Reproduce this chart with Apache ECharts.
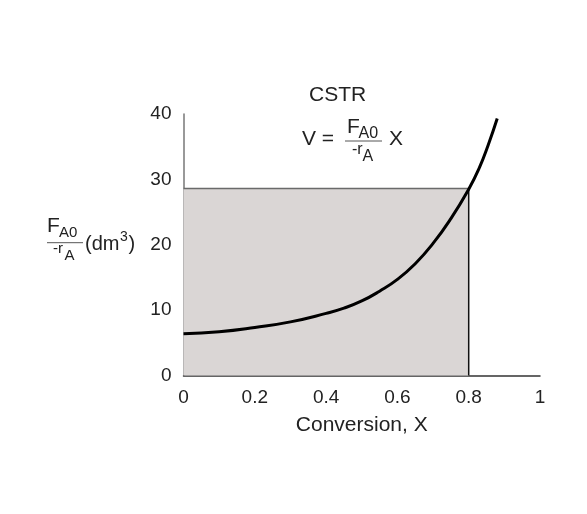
<!DOCTYPE html>
<html>
<head>
<meta charset="utf-8">
<script src="https://cdn.jsdelivr.net/npm/echarts@6/dist/echarts.min.js"></script>
<style>html,body{margin:0;padding:0;background:#fff}#c{width:587px;height:514px}</style>
</head>
<body>
<div id="c"></div>
<script>
const conversion = [0, 0.1, 0.2, 0.3, 0.4, 0.45, 0.5, 0.55, 0.6, 0.65, 0.7, 0.75, 0.8, 0.83, 0.855, 0.88];
const fa0OverRa = [6.4, 6.7, 7.35, 8.2, 9.5, 10.3, 11.4, 12.9, 14.7, 17.1, 20.2, 24.0, 28.5, 31.8, 35.3, 39.3];
const xOperating = 0.8;
const rectHeight = 28.6;
const xTicks = [0, 0.2, 0.4, 0.6, 0.8, 1];
const yTicks = [0, 10, 20, 30, 40];

const FONT = '"Liberation Sans", Arial, sans-serif';
const C = '#222';
function t(x, y, text, size) {
  return { type: 'text', style: { x: x, y: y, text: text, font: size + 'px ' + FONT, fill: C, textAlign: 'left', textVerticalAlign: 'middle' } };
}
const chart = echarts.init(document.getElementById('c'));
chart.setOption({
  animation: false,
  grid: { left: 183.5, right: 47, top: 114, bottom: 138.5 },
  xAxis: {
    type: 'value', min: 0, max: 1, interval: 0.2,
    name: 'Conversion, X', nameLocation: 'middle', nameGap: 39,
    nameTextStyle: { fontFamily: FONT, fontSize: 21, color: C },
    axisLine: { lineStyle: { color: '#333', width: 1.5 } },
    axisTick: { show: false }, splitLine: { show: false },
    axisLabel: { margin: 13, fontFamily: FONT, fontSize: 19, color: C,
      formatter: v => xTicks.includes(Math.round(v * 10) / 10) ? String(Math.round(v * 10) / 10) : '' }
  },
  yAxis: {
    type: 'value', min: 0, max: 40, interval: 10,
    axisLine: { show: true, lineStyle: { color: '#777', width: 1.5 } },
    axisTick: { show: false }, splitLine: { show: false },
    axisLabel: { margin: 12, fontFamily: FONT, fontSize: 19, color: C,
      formatter: v => yTicks.includes(v) ? String(v) : '' }
  },
  series: [
    {
      type: 'line', silent: true, symbol: 'none', z: 1,
      data: [[0, rectHeight], [xOperating, rectHeight]],
      lineStyle: { color: '#6a6a6a', width: 1.5 },
      areaStyle: { color: '#dad6d5', opacity: 1 }
    },
    {
      type: 'line', silent: true, symbol: 'none', z: 2,
      data: [[xOperating, rectHeight], [xOperating, 0]],
      lineStyle: { color: '#111', width: 1.5 }
    },
    {
      type: 'line', symbol: 'none', smooth: true, z: 3,
      data: conversion.map((x, i) => [x, fa0OverRa[i]]),
      lineStyle: { color: '#000', width: 3 }
    }
  ],
  graphic: [
    t(309, 95, 'CSTR', 21),
    t(302, 139, 'V =', 21),
    t(347, 127, 'F', 21),
    t(358.5, 134, 'A0', 16),
    { type: 'line', shape: { x1: 345, y1: 141, x2: 382, y2: 141 }, style: { stroke: '#555', lineWidth: 1 } },
    t(352, 150, '-r', 16),
    t(362.5, 157, 'A', 16),
    t(389, 139, 'X', 21),

    t(47, 226, 'F', 21),
    t(59, 233, 'A0', 15),
    { type: 'line', shape: { x1: 47, y1: 242.7, x2: 83, y2: 242.7 }, style: { stroke: '#555', lineWidth: 1 } },
    t(53, 249, '-r', 15),
    t(64.5, 256, 'A', 15),
    t(85, 244, '(dm', 20),
    t(120, 237.5, '3', 14),
    t(128.5, 244, ')', 20)
  ]
});
</script>
</body>
</html>
